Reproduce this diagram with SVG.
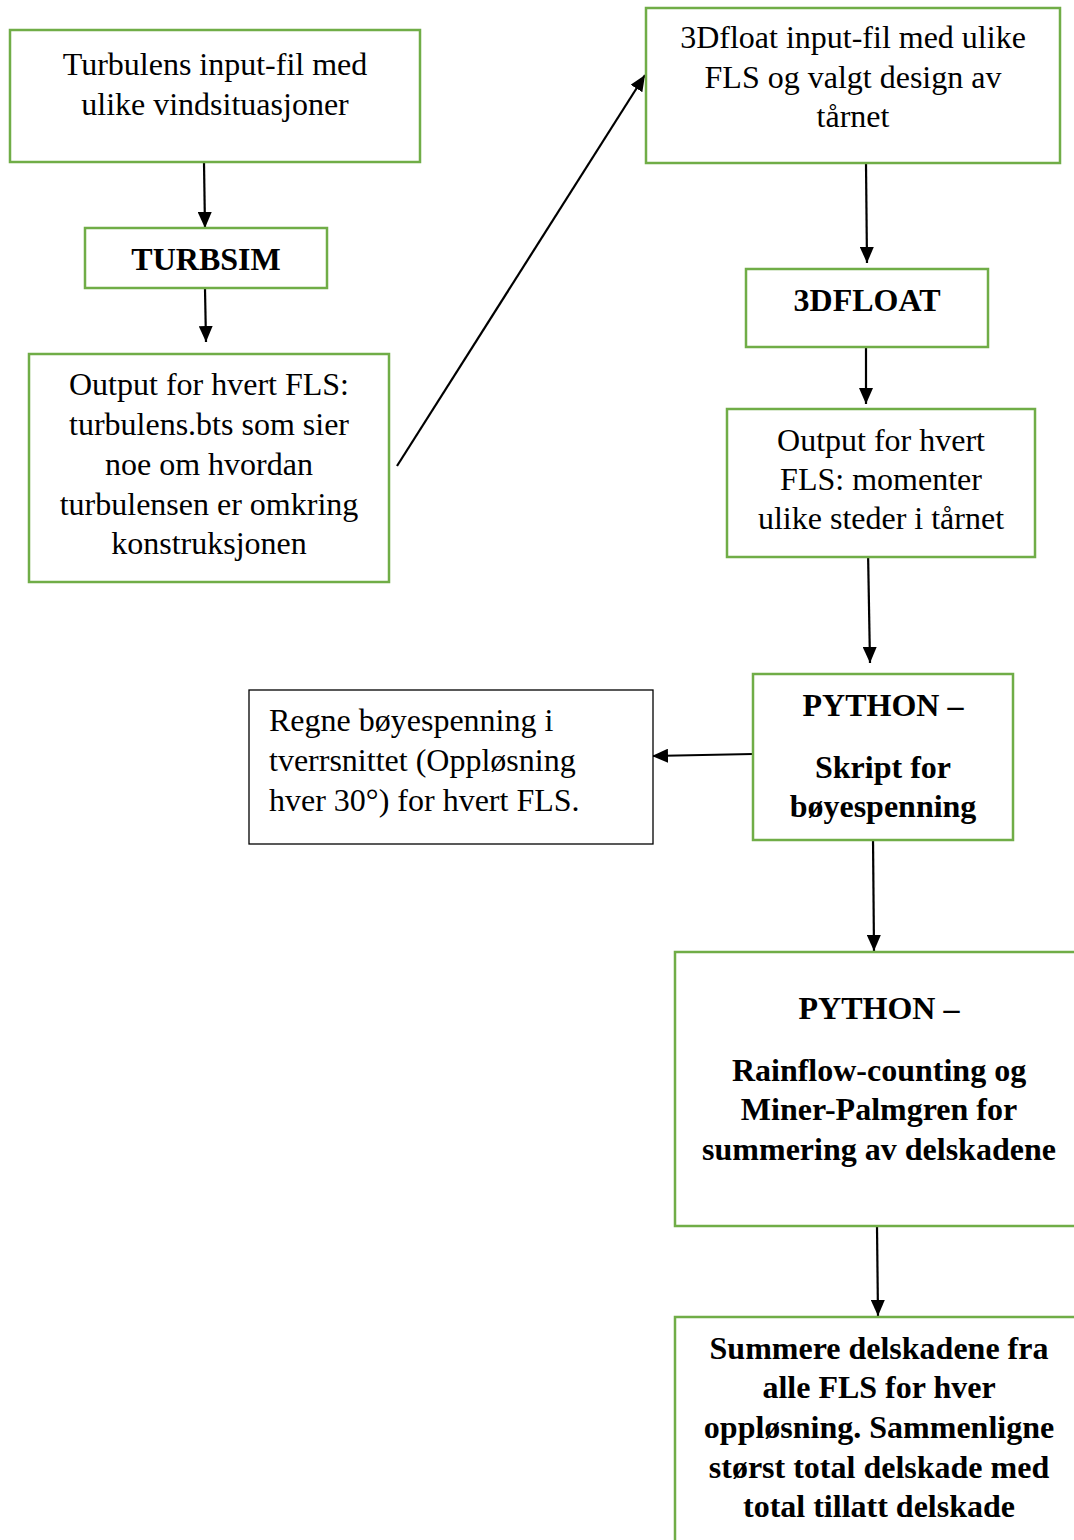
<svg xmlns="http://www.w3.org/2000/svg" width="1074" height="1540" viewBox="0 0 1074 1540">
<defs>
<marker id="ah" markerUnits="userSpaceOnUse" markerWidth="16" markerHeight="14" viewBox="0 0 16 14" refX="16" refY="7" orient="auto">
<path d="M0,0 L16,7 L0,14 Z" fill="#000"/>
</marker>
<style>
.g{fill:#fff;stroke:#70AD47;stroke-width:2.5}
.k{fill:#fff;stroke:#000;stroke-width:1.3}
text{font-family:"Liberation Serif","Times New Roman",serif;font-size:32px;fill:#000}
.c{text-anchor:middle}
.b{font-weight:bold}
.e{fill:none;stroke:#000;stroke-width:2.2;marker-end:url(#ah)}
</style>
</defs>
<rect width="1074" height="1540" fill="#fff"/>
<g id="connectors">
<line class="e" x1="204" y1="163" x2="205" y2="228"/>
<line class="e" x1="205" y1="289" x2="206" y2="342"/>
<line class="e" x1="397" y1="466" x2="645" y2="75"/>
<line class="e" x1="866" y1="164" x2="867" y2="263"/>
<line class="e" x1="866" y1="348" x2="866" y2="404"/>
<line class="e" x1="868" y1="550" x2="870" y2="663"/>
<line class="e" x1="753" y1="754" x2="652" y2="756"/>
<line class="e" x1="873" y1="838" x2="874" y2="951"/>
<line class="e" x1="877" y1="1227" x2="878" y2="1316"/>
</g>
<g id="n1">
<rect class="g" x="10" y="30" width="410" height="132"/>
<text class="c" x="215" y="75">Turbulens input-fil med</text>
<text class="c" x="215" y="115">ulike vindsituasjoner</text>
</g>
<g id="n2">
<rect class="g" x="85" y="228" width="242" height="60"/>
<text class="c b" x="206" y="270">TURBSIM</text>
</g>
<g id="n3">
<rect class="g" x="29" y="354" width="360" height="228"/>
<text class="c" x="209" y="395">Output for hvert FLS:</text>
<text class="c" x="209" y="435">turbulens.bts som sier</text>
<text class="c" x="209" y="475">noe om hvordan</text>
<text class="c" x="209" y="515">turbulensen er omkring</text>
<text class="c" x="209" y="554">konstruksjonen</text>
</g>
<g id="n4">
<rect class="g" x="646" y="8" width="414" height="155"/>
<text class="c" x="853" y="48">3Dfloat input-fil med ulike</text>
<text class="c" x="853" y="88">FLS og valgt design av</text>
<text class="c" x="853" y="127">tårnet</text>
</g>
<g id="n5">
<rect class="g" x="746" y="269" width="242" height="78"/>
<text class="c b" x="867" y="311">3DFLOAT</text>
</g>
<g id="n6">
<rect class="g" x="727" y="409" width="308" height="148"/>
<text class="c" x="881" y="451">Output for hvert</text>
<text class="c" x="881" y="490">FLS: momenter</text>
<text class="c" x="881" y="529">ulike steder i tårnet</text>
</g>
<g id="n7">
<rect class="g" x="753" y="674" width="260" height="166"/>
<text class="c b" x="883" y="716">PYTHON –</text>
<text class="c b" x="883" y="778">Skript for</text>
<text class="c b" x="883" y="817">bøyespenning</text>
</g>
<g id="n8">
<rect class="k" x="249" y="690" width="404" height="154"/>
<text x="269" y="731">Regne bøyespenning i</text>
<text x="269" y="771">tverrsnittet (Oppløsning</text>
<text x="269" y="811">hver 30°) for hvert FLS.</text>
</g>
<g id="n9">
<rect class="g" x="675" y="952" width="420" height="274"/>
<text class="c b" x="879" y="1019">PYTHON –</text>
<text class="c b" x="879" y="1081">Rainflow-counting og</text>
<text class="c b" x="879" y="1120">Miner-Palmgren for</text>
<text class="c b" x="879" y="1160">summering av delskadene</text>
</g>
<g id="n10">
<rect class="g" x="675" y="1317" width="420" height="240"/>
<text class="c b" x="879" y="1359">Summere delskadene fra</text>
<text class="c b" x="879" y="1398">alle FLS for hver</text>
<text class="c b" x="879" y="1438">oppløsning. Sammenligne</text>
<text class="c b" x="879" y="1478">størst total delskade med</text>
<text class="c b" x="879" y="1517">total tillatt delskade</text>
</g>
</svg>
